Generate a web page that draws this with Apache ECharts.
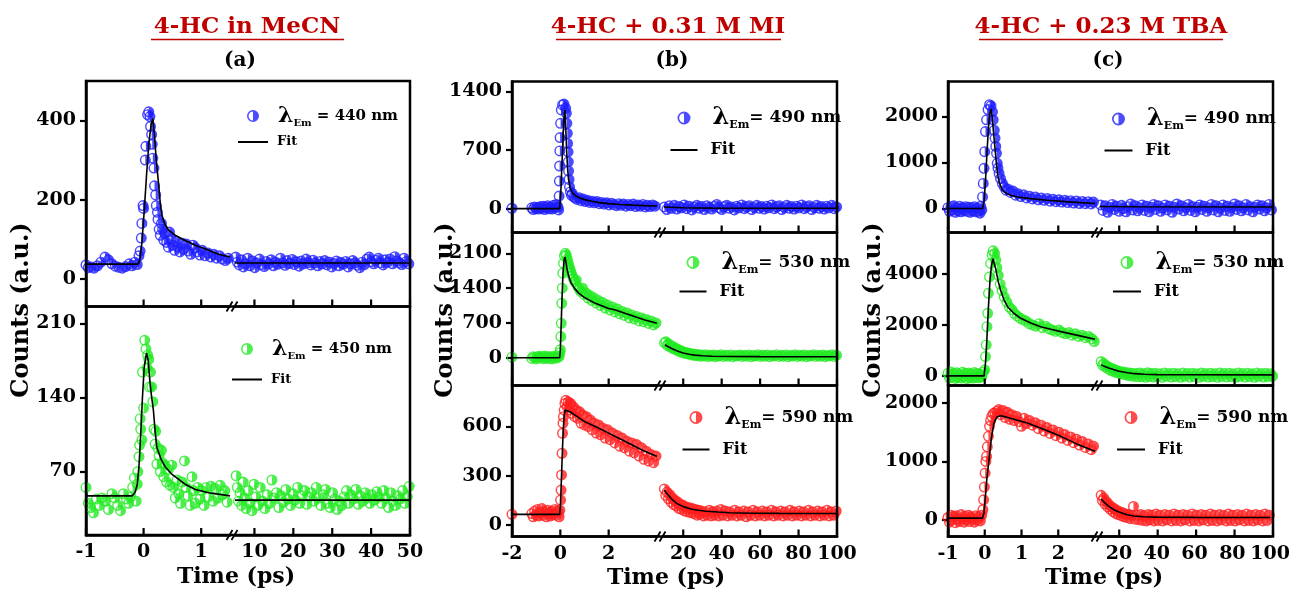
<!DOCTYPE html>
<html>
<head>
<meta charset="utf-8">
<script src="https://cdn.jsdelivr.net/npm/echarts@6/dist/echarts.min.js"></script>
<style>
  html, body { margin: 0; padding: 0; background: #ffffff; }
  #chart { width: 1293px; height: 595px; }
</style>
</head>
<body>
<div id="chart"></div>
<script>
// ---------------- tick values ----------------
const aEarlyTicks = [-1, 0, 1];
const aLateTicks = [10, 20, 30, 40, 50];
const bEarlyTicks = [-2, 0, 2];
const cEarlyTicks = [-1, 0, 1, 2];
const bcLateTicks = [20, 40, 60, 80, 100];
const a440Ticks = [0, 200, 400];
const a450Ticks = [70, 140, 210];
const b490Ticks = [0, 700, 1400];
const b530Ticks = [0, 700, 1400, 2100];
const b590Ticks = [0, 300, 600];
const c490Ticks = [0, 1000, 2000];
const c530Ticks = [0, 2000, 4000];
const c590Ticks = [0, 1000, 2000];

// ---------------- data: [time (ps), counts] ----------------
// (a) 4-HC in MeCN, 440 nm
const a440Early = [[-1.00,35],[-0.96,28],[-0.91,30],[-0.86,27],[-0.80,33],[-0.74,42],[-0.67,55],[-0.61,48],[-0.55,38],[-0.49,32],[-0.43,29],[-0.37,27],[-0.31,31],[-0.25,38],[-0.20,33],[-0.15,42],[-0.11,36],[-0.08,58],[-0.06,70],[-0.04,103],[-0.03,140],[-0.01,185],[0.00,178],[0.03,300],[0.04,335],[0.07,415],[0.09,422],[0.11,410],[0.12,385],[0.14,365],[0.15,340],[0.16,305],[0.18,280],[0.19,235],[0.21,212],[0.22,185],[0.24,168],[0.25,150],[0.27,125],[0.29,110],[0.31,140],[0.33,125],[0.35,98],[0.37,115],[0.40,92],[0.43,80],[0.45,118],[0.48,100],[0.51,85],[0.54,72],[0.57,95],[0.60,80],[0.63,68],[0.67,90],[0.70,75],[0.74,88],[0.78,70],[0.82,62],[0.86,85],[0.90,78],[0.94,68],[0.98,60],[1.02,72],[1.07,58],[1.12,65],[1.17,55],[1.22,62],[1.27,52],[1.32,58],[1.37,50],[1.42,46],[1.47,52]];
const a440Late = [[5.2,55],[5.6,42],[6.1,35],[6.7,48],[7.2,30],[7.8,38],[8.3,52],[8.9,33],[9.5,45],[10.1,28],[10.7,40],[11.3,50],[11.9,36],[12.5,31],[13.1,44],[13.7,38],[14.3,48],[14.9,33],[15.5,42],[16.1,37],[16.7,52],[17.3,40],[17.9,34],[18.5,46],[19.1,39],[19.7,49],[20.3,36],[20.9,43],[21.5,32],[22.1,45],[22.7,38],[23.3,50],[23.9,41],[24.5,35],[25.1,47],[25.7,40],[26.3,33],[26.9,44],[27.5,38],[28.1,46],[28.7,35],[29.3,42],[29.9,30],[30.5,39],[31.1,45],[31.7,33],[32.3,41],[32.9,37],[33.5,44],[34.1,30],[34.7,38],[35.3,46],[35.9,40],[36.5,34],[37.1,28],[37.7,42],[38.3,36],[38.9,50],[39.5,55],[40.1,43],[40.7,38],[41.3,47],[41.9,52],[42.5,40],[43.1,35],[43.7,48],[44.3,42],[44.9,50],[45.5,38],[46.1,56],[46.7,45],[47.3,40],[47.9,36],[48.5,52],[49.1,44],[49.7,38]];
const a440FitEarly = [[-1,37],[-0.1,37],[-0.07,45],[-0.03,90],[0.01,170],[0.05,260],[0.09,340],[0.13,390],[0.16,405],[0.19,360],[0.22,300],[0.26,240],[0.29,190],[0.32,160],[0.37,138],[0.43,124],[0.55,110],[0.72,97],[0.9,85],[1.13,72],[1.3,62],[1.5,55]];
const a440FitLate = [[5,40],[50,40]];

// (a) 4-HC in MeCN, 450 nm
const a450Early = [[-1.00,55],[-0.96,40],[-0.92,36],[-0.87,31],[-0.82,44],[-0.77,38],[-0.72,45],[-0.66,42],[-0.61,34],[-0.55,49],[-0.50,45],[-0.45,38],[-0.40,33],[-0.35,49],[-0.30,44],[-0.26,40],[-0.22,46],[-0.19,55],[-0.16,64],[-0.13,42],[-0.11,58],[-0.10,70],[-0.08,84],[-0.07,95],[-0.06,120],[-0.05,110],[-0.03,100],[-0.02,164],[0.00,130],[0.02,194],[0.04,186],[0.06,168],[0.07,180],[0.09,176],[0.10,150],[0.12,164],[0.14,150],[0.16,136],[0.18,110],[0.20,96],[0.21,108],[0.23,77],[0.25,92],[0.27,85],[0.29,70],[0.31,90],[0.33,78],[0.35,65],[0.37,76],[0.40,60],[0.43,72],[0.46,57],[0.49,76],[0.52,55],[0.55,45],[0.58,62],[0.61,49],[0.64,40],[0.67,60],[0.71,80],[0.74,55],[0.77,47],[0.81,38],[0.84,65],[0.87,52],[0.90,40],[0.94,55],[0.98,44],[1.01,52],[1.05,38],[1.09,55],[1.13,46],[1.17,56],[1.21,42],[1.25,54],[1.29,45],[1.33,57],[1.37,48],[1.41,52],[1.45,41]];
const a450Late = [[5.3,66],[5.6,55],[5.9,42],[6.3,50],[6.7,38],[7.1,60],[7.5,45],[7.9,35],[8.4,52],[8.9,40],[9.4,33],[9.9,58],[10.4,46],[10.9,38],[11.5,55],[12.1,42],[12.7,35],[13.3,48],[13.9,40],[14.5,62],[15.1,45],[15.7,50],[16.3,36],[16.9,47],[17.5,41],[18.1,53],[18.7,44],[19.3,38],[19.9,49],[20.5,43],[21.1,55],[21.7,40],[22.3,47],[22.9,52],[23.5,39],[24.1,46],[24.7,50],[25.3,42],[25.9,55],[26.5,45],[27.1,38],[27.7,48],[28.3,53],[28.9,40],[29.5,36],[30.1,50],[30.7,44],[31.3,34],[31.9,42],[32.5,38],[33.1,46],[33.7,52],[34.3,40],[34.9,48],[35.5,44],[36.1,53],[36.7,39],[37.3,47],[37.9,42],[38.5,50],[39.1,45],[39.7,40],[40.3,48],[40.9,43],[41.5,51],[42.1,46],[42.7,40],[43.3,52],[43.9,45],[44.5,36],[45.1,50],[45.7,42],[46.3,38],[46.9,47],[47.5,44],[48.1,52],[48.7,40],[49.3,46],[49.8,56]];
const a450FitEarly = [[-1,47],[-0.2,47],[-0.15,50],[-0.11,58],[-0.08,75],[-0.05,105],[-0.02,140],[0.01,168],[0.05,182],[0.08,175],[0.11,155],[0.14,140],[0.17,128],[0.2,108],[0.23,93],[0.3,82],[0.38,74],[0.5,67],[0.72,58],[0.9,53],[1.13,50],[1.5,47]];
const a450FitLate = [[5,43],[50,43]];

// (b) 4-HC + 0.31 M MI, 490 nm
const b490Early = [[-2.00,5],[-1.18,10],[-1.12,-10],[-1.06,20],[-1.00,0],[-0.94,15],[-0.88,-5],[-0.82,25],[-0.76,5],[-0.70,30],[-0.64,-10],[-0.58,15],[-0.52,35],[-0.46,0],[-0.40,20],[-0.34,-5],[-0.28,40],[-0.22,10],[-0.16,50],[-0.10,20],[-0.07,-15],[-0.05,150],[-0.04,330],[-0.03,510],[-0.02,690],[-0.01,850],[0.01,1020],[0.04,1180],[0.09,1240],[0.15,1250],[0.22,1200],[0.25,1140],[0.27,1020],[0.29,900],[0.30,780],[0.32,680],[0.33,560],[0.34,450],[0.36,350],[0.38,260],[0.42,200],[0.46,160],[0.50,180],[0.56,140],[0.62,125],[0.70,110],[0.78,130],[0.86,95],[0.95,115],[1.04,85],[1.13,100],[1.22,75],[1.32,90],[1.42,70],[1.52,85],[1.62,60],[1.72,75],[1.82,55],[1.92,70],[2.02,45],[2.12,65],[2.22,50],[2.32,35],[2.42,60],[2.52,40],[2.62,55],[2.72,30],[2.82,50],[2.92,35],[3.02,55],[3.12,25],[3.22,45],[3.32,30],[3.42,50],[3.52,20],[3.62,40],[3.72,25],[3.82,45],[3.92,30]];
const b490Late = [[10.2,20],[11.5,-10],[12.8,35],[14.1,5],[15.4,40],[16.7,-5],[18.0,25],[19.3,10],[20.6,45],[21.9,0],[23.2,30],[24.5,-15],[25.8,20],[27.1,40],[28.4,5],[29.7,25],[31.0,-10],[32.3,35],[33.6,15],[34.9,-5],[36.2,30],[37.5,50],[38.8,10],[40.1,-10],[41.4,25],[42.7,40],[44.0,5],[45.3,20],[46.6,-15],[47.9,30],[49.2,10],[50.5,45],[51.8,0],[53.1,20],[54.4,35],[55.7,-10],[57.0,15],[58.3,40],[59.6,5],[60.9,25],[62.2,-5],[63.5,30],[64.8,10],[66.1,45],[67.4,0],[68.7,20],[70.0,35],[71.3,-10],[72.6,15],[73.9,40],[75.2,5],[76.5,25],[77.8,-5],[79.1,30],[80.4,10],[81.7,45],[83.0,0],[84.3,20],[85.6,35],[86.9,-10],[88.2,15],[89.5,40],[90.8,5],[92.1,25],[93.4,-5],[94.7,30],[96.0,10],[97.3,40],[98.6,0],[99.8,20]];
const b490FitEarly = [[-2,0],[-0.03,0],[0.02,200],[0.07,550],[0.12,900],[0.16,1130],[0.19,1180],[0.22,1000],[0.26,700],[0.3,480],[0.34,350],[0.4,250],[0.5,190],[0.65,150],[0.8,128],[1.0,108],[1.3,88],[1.6,72],[2.0,60],[2.5,50],[3.0,42],[3.5,36],[4.0,32]];
const b490FitLate = [[10,20],[20,10],[35,6],[100,5]];

// (b) 4-HC + 0.31 M MI, 530 nm
const b530Early = [[-2.00,10],[-1.18,-15],[-1.12,20],[-1.06,5],[-1.00,-25],[-0.94,15],[-0.88,30],[-0.82,-5],[-0.76,20],[-0.70,-20],[-0.64,35],[-0.58,0],[-0.52,-15],[-0.46,25],[-0.40,5],[-0.34,-25],[-0.28,30],[-0.22,10],[-0.16,-10],[-0.10,40],[-0.05,20],[-0.02,100],[0.00,160],[0.02,424],[0.04,692],[0.06,1094],[0.08,1400],[0.10,1700],[0.13,1900],[0.17,2050],[0.21,2100],[0.25,2060],[0.29,1980],[0.33,1900],[0.37,1830],[0.41,1760],[0.45,1700],[0.50,1640],[0.55,1580],[0.60,1520],[0.66,1560],[0.72,1430],[0.78,1380],[0.85,1330],[0.92,1400],[0.99,1270],[1.07,1300],[1.15,1200],[1.23,1250],[1.31,1150],[1.40,1200],[1.49,1100],[1.58,1150],[1.67,1050],[1.76,1110],[1.86,1000],[1.96,1060],[2.06,960],[2.16,1020],[2.26,920],[2.36,980],[2.46,880],[2.56,930],[2.66,850],[2.76,900],[2.86,800],[2.96,860],[3.06,780],[3.16,830],[3.26,740],[3.36,800],[3.46,720],[3.56,770],[3.66,690],[3.76,740],[3.86,660],[3.96,700]];
const b530Late = [[10.3,300],[11.0,320],[11.7,250],[12.4,280],[13.1,220],[13.8,240],[14.5,190],[15.2,210],[15.9,160],[16.6,180],[17.3,140],[18.0,155],[18.7,110],[19.4,130],[20.1,95],[20.8,110],[21.5,80],[22.2,100],[22.9,70],[23.6,85],[24.3,55],[25.0,75],[25.8,45],[26.6,70],[27.4,40],[28.2,60],[29.0,30],[29.8,55],[30.8,35],[31.8,60],[32.8,25],[33.8,50],[34.8,30],[35.8,55],[36.8,20],[37.8,45],[38.8,35],[39.8,60],[41.0,25],[42.2,50],[43.4,30],[44.6,55],[45.8,20],[47.0,45],[48.2,35],[49.4,55],[50.6,25],[51.8,50],[53.0,30],[54.2,55],[55.4,20],[56.6,45],[57.8,35],[59.0,60],[60.2,25],[61.4,50],[62.6,30],[63.8,55],[65.0,20],[66.2,45],[67.4,35],[68.6,60],[69.8,25],[71.0,50],[72.2,30],[73.4,55],[74.6,20],[75.8,45],[77.0,35],[78.2,60],[79.4,25],[80.6,50],[81.8,30],[83.0,55],[84.2,20],[85.4,45],[86.6,35],[87.8,60],[89.0,25],[90.2,50],[91.4,30],[92.6,55],[93.8,20],[95.0,45],[96.2,35],[97.4,60],[98.6,25],[99.8,50]];
const b530FitEarly = [[-2,0],[-0.03,0],[0.0,150],[0.03,600],[0.07,1200],[0.11,1700],[0.15,1950],[0.19,2030],[0.23,1930],[0.28,1780],[0.35,1640],[0.45,1500],[0.6,1390],[0.76,1300],[1.0,1210],[1.45,1094],[2.0,990],[2.28,960],[2.7,890],[3.1,825],[3.5,760],[4.0,692]];
const b530FitLate = [[10.5,260],[12,225],[14,185],[16,150],[18,120],[20,95],[23,70],[26,52],[30,38],[35,30],[45,24],[60,21],[100,20]];

// (b) 4-HC + 0.31 M MI, 590 nm
const b590Early = [[-2.00,65],[-1.18,70],[-1.12,50],[-1.06,85],[-1.00,60],[-0.94,95],[-0.88,55],[-0.82,75],[-0.76,100],[-0.70,60],[-0.64,80],[-0.58,50],[-0.52,90],[-0.46,70],[-0.40,55],[-0.34,85],[-0.28,65],[-0.22,95],[-0.16,60],[-0.10,80],[-0.05,50],[-0.02,90],[0.01,152],[0.03,213],[0.05,305],[0.07,437],[0.09,559],[0.11,620],[0.13,660],[0.16,700],[0.19,740],[0.23,760],[0.28,720],[0.33,750],[0.38,700],[0.43,740],[0.48,680],[0.54,720],[0.60,660],[0.66,700],[0.72,650],[0.79,690],[0.86,620],[0.93,670],[1.00,610],[1.08,660],[1.16,600],[1.24,640],[1.32,580],[1.40,620],[1.49,560],[1.58,610],[1.67,550],[1.76,590],[1.86,530],[1.96,580],[2.06,520],[2.16,560],[2.26,500],[2.36,545],[2.46,480],[2.56,530],[2.66,470],[2.76,510],[2.86,450],[2.96,500],[3.06,440],[3.16,490],[3.26,420],[3.36,470],[3.46,400],[3.56,450],[3.66,390],[3.76,430],[3.86,380],[3.96,420]];
const b590Late = [[10.2,220],[10.9,180],[11.6,200],[12.3,160],[13.0,185],[13.7,140],[14.4,165],[15.1,125],[15.8,150],[16.5,115],[17.2,140],[17.9,100],[18.6,125],[19.3,95],[20.0,120],[20.8,85],[21.6,110],[22.4,80],[23.2,105],[24.0,75],[24.8,100],[25.6,70],[26.4,95],[27.2,60],[28.0,90],[28.8,65],[29.6,85],[30.6,55],[31.6,80],[32.6,60],[33.6,90],[34.6,55],[35.6,80],[36.6,60],[37.6,85],[38.6,55],[39.6,95],[40.8,60],[42.0,85],[43.2,55],[44.4,80],[45.6,60],[46.8,90],[48.0,55],[49.2,80],[50.4,60],[51.6,85],[52.8,50],[54.0,80],[55.2,60],[56.4,90],[57.6,55],[58.8,80],[60.0,60],[61.2,85],[62.4,55],[63.6,80],[64.8,60],[66.0,90],[67.2,55],[68.4,80],[69.6,60],[70.8,85],[72.0,55],[73.2,80],[74.4,60],[75.6,90],[76.8,55],[78.0,80],[79.2,60],[80.4,85],[81.6,55],[82.8,80],[84.0,60],[85.2,90],[86.4,55],[87.6,80],[88.8,60],[90.0,85],[91.2,55],[92.4,80],[93.6,60],[94.8,90],[96.0,55],[97.2,80],[98.4,60],[99.6,85]];
const b590FitEarly = [[-2,65],[-0.03,65],[0.0,110],[0.04,260],[0.08,430],[0.12,580],[0.16,670],[0.2,700],[0.4,690],[0.7,660],[1.0,630],[1.45,600],[2.0,560],[2.4,530],[2.83,498],[3.4,455],[4.0,417]];
const b590FitLate = [[10.1,213],[12,185],[14,158],[16.6,132],[20,112],[24,98],[27,91],[32,84],[38,79],[44,75],[55,72],[70,71],[100,70]];

// (c) 4-HC + 0.23 M TBA, 490 nm
const c490Early = [[-1.00,20],[-0.96,-60],[-0.92,40],[-0.88,-40],[-0.84,60],[-0.80,-80],[-0.76,20],[-0.72,-50],[-0.68,50],[-0.64,-70],[-0.60,10],[-0.56,-40],[-0.52,40],[-0.48,-60],[-0.44,30],[-0.40,-80],[-0.36,20],[-0.32,-50],[-0.28,40],[-0.24,-70],[-0.20,10],[-0.16,-60],[-0.13,-100],[-0.11,50],[-0.08,-30],[-0.06,253],[-0.04,546],[-0.02,873],[0.00,1236],[0.02,1672],[0.05,1928],[0.09,2150],[0.13,2255],[0.17,2230],[0.21,2100],[0.23,1928],[0.26,1700],[0.28,1528],[0.30,1350],[0.32,1200],[0.34,982],[0.36,880],[0.39,764],[0.43,650],[0.48,546],[0.53,470],[0.58,400],[0.64,420],[0.70,350],[0.77,380],[0.84,290],[0.91,320],[0.98,260],[1.06,300],[1.14,230],[1.22,270],[1.30,210],[1.38,250],[1.46,190],[1.54,230],[1.62,180],[1.70,220],[1.78,160],[1.86,200],[1.94,150],[2.02,190],[2.10,140],[2.18,180],[2.26,130],[2.34,170],[2.42,120],[2.50,165],[2.58,110],[2.66,155],[2.74,105],[2.82,150],[2.90,100],[2.96,140]];
const c490Late = [[10.4,80],[11.6,-40],[12.8,60],[14.0,-80],[15.2,30],[16.4,90],[17.6,-20],[18.8,50],[20.0,-60],[21.2,70],[22.4,0],[23.6,-70],[24.8,40],[26.0,100],[27.2,-30],[28.4,60],[29.6,-50],[30.8,20],[32.0,80],[33.2,-40],[34.4,50],[35.6,-70],[36.8,30],[38.0,90],[39.2,-20],[40.4,60],[41.6,-60],[42.8,10],[44.0,80],[45.2,-30],[46.4,50],[47.6,-80],[48.8,30],[50.0,100],[51.2,-10],[52.4,60],[53.6,-50],[54.8,20],[56.0,90],[57.2,-40],[58.4,40],[59.6,-70],[60.8,30],[62.0,80],[63.2,-20],[64.4,50],[65.6,-60],[66.8,20],[68.0,90],[69.2,-30],[70.4,60],[71.6,-70],[72.8,10],[74.0,80],[75.2,-40],[76.4,50],[77.6,-60],[78.8,30],[80.0,100],[81.2,-20],[82.4,60],[83.6,-50],[84.8,20],[86.0,90],[87.2,-30],[88.4,40],[89.6,-70],[90.8,30],[92.0,80],[93.2,-10],[94.4,60],[95.6,-50],[96.8,20],[98.0,90],[99.2,-30]];
const c490FitEarly = [[-1,0],[-0.06,0],[-0.02,150],[0.02,600],[0.06,1200],[0.1,1750],[0.14,2080],[0.17,2160],[0.2,2000],[0.24,1650],[0.28,1300],[0.32,950],[0.36,700],[0.4,560],[0.47,420],[0.55,350],[0.7,290],[0.9,250],[1.25,215],[1.7,180],[2.2,150],[2.6,128],[3.0,110]];
const c490FitLate = [[10,45],[30,38],[100,35]];

// (c) 4-HC + 0.23 M TBA, 530 nm
const c530Early = [[-1.00,100],[-0.96,-80],[-0.92,150],[-0.88,-50],[-0.84,80],[-0.80,-100],[-0.76,120],[-0.72,-60],[-0.68,60],[-0.64,-90],[-0.60,140],[-0.56,-40],[-0.52,90],[-0.48,-110],[-0.44,110],[-0.40,-70],[-0.36,70],[-0.32,-90],[-0.28,130],[-0.24,-50],[-0.20,90],[-0.16,-80],[-0.12,60],[-0.08,-40],[-0.04,150],[0.00,235],[0.02,757],[0.04,1216],[0.06,1933],[0.08,2459],[0.10,3243],[0.13,3894],[0.16,4420],[0.20,4750],[0.23,4914],[0.27,4800],[0.30,4550],[0.33,4250],[0.37,3950],[0.42,3600],[0.47,3350],[0.53,3100],[0.60,2900],[0.67,2700],[0.74,2600],[0.81,2450],[0.89,2350],[0.97,2260],[1.05,2200],[1.13,2150],[1.21,2050],[1.30,2000],[1.39,1950],[1.48,2050],[1.57,1900],[1.66,1950],[1.75,1850],[1.84,1800],[1.93,1750],[2.02,1800],[2.11,1700],[2.20,1650],[2.29,1700],[2.38,1600],[2.47,1650],[2.56,1550],[2.65,1600],[2.74,1500],[2.83,1550],[2.92,1450],[2.98,1350]];
const c530Late = [[10.6,560],[11.3,420],[12.0,480],[12.7,350],[13.4,400],[14.1,280],[14.8,340],[15.5,220],[16.2,290],[16.9,180],[17.6,250],[18.3,140],[19.0,200],[19.7,110],[20.4,170],[21.2,80],[22.0,150],[22.8,50],[23.6,130],[24.4,20],[25.2,110],[26.0,0],[26.8,100],[27.8,-20],[28.8,90],[29.8,-40],[30.8,110],[31.8,-30],[32.8,80],[33.8,-60],[34.8,120],[35.8,-20],[36.8,90],[37.8,-50],[38.8,100],[40.0,-30],[41.2,80],[42.4,-60],[43.6,110],[44.8,-20],[46.0,90],[47.2,-50],[48.4,100],[49.6,-30],[50.8,80],[52.0,-60],[53.2,110],[54.4,-20],[55.6,90],[56.8,-50],[58.0,100],[59.2,-30],[60.4,80],[61.6,-60],[62.8,110],[64.0,-20],[65.2,90],[66.4,-50],[67.6,100],[68.8,-30],[70.0,80],[71.2,-60],[72.4,110],[73.6,-20],[74.8,90],[76.0,-50],[77.2,100],[78.4,-30],[79.6,80],[80.8,-60],[82.0,110],[83.2,-20],[84.4,90],[85.6,-50],[86.8,100],[88.0,-30],[89.2,80],[90.4,-60],[91.6,110],[92.8,-20],[94.0,90],[95.2,-50],[96.4,100],[97.6,-30],[98.8,80],[99.8,-10]];
const c530FitEarly = [[-1,0],[-0.02,0],[0.02,500],[0.06,1500],[0.1,2700],[0.14,3700],[0.18,4300],[0.22,4600],[0.25,4615],[0.3,4200],[0.36,3750],[0.43,3373],[0.52,3000],[0.62,2718],[0.8,2450],[0.98,2262],[1.25,2080],[1.52,1933],[1.8,1830],[2.07,1737],[2.5,1600],[3.0,1439]];
const c530FitLate = [[10.6,431],[12.5,370],[14.5,310],[17.4,235],[20,180],[24.3,120],[28,85],[33,62],[40,48],[55,41],[100,39]];

// (c) 4-HC + 0.23 M TBA, 590 nm
const c590Early = [[-1.00,40],[-0.96,-40],[-0.92,80],[-0.88,0],[-0.84,60],[-0.80,-50],[-0.76,70],[-0.72,10],[-0.68,-30],[-0.64,90],[-0.60,20],[-0.56,-40],[-0.52,60],[-0.48,0],[-0.44,80],[-0.40,-30],[-0.36,50],[-0.32,10],[-0.28,-40],[-0.24,70],[-0.20,0],[-0.16,60],[-0.12,-20],[-0.08,80],[-0.05,172],[-0.03,343],[-0.01,560],[0.01,801],[0.03,1000],[0.05,1086],[0.07,1250],[0.10,1429],[0.13,1600],[0.16,1700],[0.19,1772],[0.23,1820],[0.28,1830],[0.33,1860],[0.38,1887],[0.44,1800],[0.50,1870],[0.56,1750],[0.62,1840],[0.68,1720],[0.74,1800],[0.80,1700],[0.87,1770],[0.94,1680],[1.00,1600],[1.07,1740],[1.14,1650],[1.22,1700],[1.30,1620],[1.38,1660],[1.46,1560],[1.54,1620],[1.62,1520],[1.70,1580],[1.78,1480],[1.86,1540],[1.94,1440],[2.02,1500],[2.10,1400],[2.18,1460],[2.26,1360],[2.34,1420],[2.42,1320],[2.50,1380],[2.58,1280],[2.66,1340],[2.74,1240],[2.82,1300],[2.90,1200],[2.96,1260]];
const c590Late = [[10.6,420],[11.3,330],[12.0,370],[12.7,270],[13.4,310],[14.1,220],[14.8,260],[15.5,180],[16.2,220],[16.9,140],[17.6,190],[18.3,110],[19.0,160],[19.7,90],[20.4,140],[21.2,70],[22.0,120],[22.8,50],[23.6,100],[24.4,40],[25.2,90],[26.0,20],[26.8,80],[27.7,228],[28.6,10],[29.6,80],[30.6,0],[31.6,90],[32.6,-10],[33.6,70],[34.6,-20],[35.6,90],[36.6,0],[37.6,80],[38.6,-20],[39.6,100],[40.8,-10],[42.0,80],[43.2,-20],[44.4,90],[45.6,0],[46.8,80],[48.0,-20],[49.2,100],[50.4,-10],[51.6,80],[52.8,-20],[54.0,90],[55.2,0],[56.4,80],[57.6,-20],[58.8,100],[60.0,-10],[61.2,80],[62.4,-20],[63.6,90],[64.8,0],[66.0,80],[67.2,-20],[68.4,100],[69.6,-10],[70.8,80],[72.0,-20],[73.2,90],[74.4,0],[75.6,80],[76.8,-20],[78.0,100],[79.2,-10],[80.4,80],[81.6,-20],[82.8,90],[84.0,0],[85.2,80],[86.4,-20],[87.6,100],[88.8,-10],[90.0,80],[91.2,-20],[92.4,90],[93.6,0],[94.8,80],[96.0,-20],[97.2,100],[98.4,-10],[99.6,80]];
const c590FitEarly = [[-1,29],[-0.06,29],[-0.02,120],[0.02,420],[0.06,720],[0.12,1050],[0.18,1400],[0.25,1659],[0.33,1760],[0.43,1784],[0.7,1740],[1.16,1659],[1.6,1550],[2.07,1429],[2.5,1300],[3.0,1172]];
const c590FitLate = [[10.6,355],[12.5,290],[14.5,235],[17.4,172],[20,135],[24.3,86],[28,65],[33,52],[40,45],[60,41],[100,40]];

// ---------------- layout & style ----------------
const FONT = '"DejaVu Serif"';
const BLUE = '#1e1eff', GREEN = '#22ea22', RED = '#ff1e1e';
const TITLE_RED = '#c00000';
// ring with a filled right half
const HALF = 'path://M0,10A10,10,0,1,1,20,10A10,10,0,1,1,0,10ZM2.6,10A7.4,7.4,0,1,0,17.4,10A7.4,7.4,0,1,0,2.6,10ZM10,0A10,10,0,0,1,10,20Z';

const COLS = {
  a: { x0: 86, xe: 230, xl: 235, x1: 410, rows: [[81, 306.5], [306.5, 535]],
       early: [-1, 1.5], late: [5, 50], et: aEarlyTicks, lt: aLateTicks,
       leg: { lw: 30, dot: 12, gapDot: 14, gapFit: 4, l: 22, s: 10, t: 15, f: 13 } },
  b: { x0: 512, xe: 657, xl: 664, x1: 837, rows: [[81.5, 232.5], [232.5, 385.5], [385.5, 536.5]],
       early: [-2, 4], late: [10, 100], et: bEarlyTicks, lt: bcLateTicks,
       leg: { lw: 27, dot: 13, gapDot: 17, gapFit: 8, l: 24, s: 11, t: 17, f: 16 } },
  c: { x0: 948, xe: 1095, xl: 1100, x1: 1273, rows: [[81.5, 232.5], [232.5, 385.5], [385.5, 536.5]],
       early: [-1, 3], late: [10, 100], et: cEarlyTicks, lt: bcLateTicks,
       leg: { lw: 28, dot: 13, gapDot: 17, gapFit: 8, l: 24, s: 11, t: 17, f: 16 } }
};

const panels = [
  { col: 'a', row: 0, name: 'a440', text: ' = 440 nm', color: BLUE, y: [-70, 500], yt: a440Ticks,
    early: a440Early, late: a440Late, fitE: a440FitEarly, fitL: a440FitLate, leg: [253, 117, 144] },
  { col: 'a', row: 1, name: 'a450', text: ' = 450 nm', color: GREEN, y: [10, 226], yt: a450Ticks,
    early: a450Early, late: a450Late, fitE: a450FitEarly, fitL: a450FitLate, leg: [247, 350, 381.5] },
  { col: 'b', row: 0, name: 'b490', text: '= 490 nm', color: BLUE, y: [-285, 1520], yt: b490Ticks,
    early: b490Early, late: b490Late, fitE: b490FitEarly, fitL: b490FitLate, leg: [684, 119, 152] },
  { col: 'b', row: 1, name: 'b530', text: '= 530 nm', color: GREEN, y: [-560, 2520], yt: b530Ticks,
    early: b530Early, late: b530Late, fitE: b530FitEarly, fitL: b530FitLate, leg: [693, 263.5, 293.5] },
  { col: 'b', row: 2, name: 'b590', text: '= 590 nm', color: RED, y: [-70, 850], yt: b590Ticks,
    early: b590Early, late: b590Late, fitE: b590FitEarly, fitL: b590FitLate, leg: [696, 418.5, 451.5] },
  { col: 'c', row: 0, name: 'c490', text: '= 490 nm', color: BLUE, y: [-520, 2760], yt: c490Ticks,
    early: c490Early, late: c490Late, fitE: c490FitEarly, fitL: c490FitLate, leg: [1118.5, 120, 152.5] },
  { col: 'c', row: 1, name: 'c530', text: '= 530 nm', color: GREEN, y: [-380, 5635], yt: c530Ticks,
    early: c530Early, late: c530Late, fitE: c530FitEarly, fitL: c530FitLate, leg: [1127, 263.5, 293.5] },
  { col: 'c', row: 2, name: 'c590', text: '= 590 nm', color: RED, y: [-286, 2300], yt: c590Ticks,
    early: c590Early, late: c590Late, fitE: c590FitEarly, fitL: c590FitLate, leg: [1131, 418.5, 451.5] }
];

const labelFont = { fontFamily: FONT, fontWeight: 'bold', fontSize: 19, color: '#000', formatter: v => String(v) };
const tickLine = { color: '#000', width: 2.2 };
const axisLine = { show: true, onZero: false, lineStyle: { color: '#000', width: 2.5 } };

const option = {
  animation: false,
  backgroundColor: '#ffffff',
  textStyle: { fontFamily: FONT },
  grid: [], xAxis: [], yAxis: [], series: [], legend: [], graphic: []
};
const G = option.graphic;

panels.forEach(p => {
  const c = COLS[p.col];
  const [y0, y1] = c.rows[p.row];
  const isBottom = p.row === c.rows.length - 1;
  const segs = [
    { xa: c.x0, xb: c.xe, range: c.early, ticks: c.et, pts: p.early, fit: p.fitE, main: true },
    { xa: c.xl, xb: c.x1, range: c.late, ticks: c.lt, pts: p.late, fit: p.fitL, main: false }
  ];
  segs.forEach(s => {
    const gi = option.grid.length;
    option.grid.push({ left: s.xa, top: y0, width: s.xb - s.xa, height: y1 - y0 });
    option.xAxis.push({
      type: 'value', gridIndex: gi, min: s.range[0], max: s.range[1], position: 'bottom',
      axisLine: axisLine, splitLine: { show: false },
      axisTick: { show: false },
      axisLabel: Object.assign({ show: isBottom, customValues: s.ticks, margin: 8,
        showMinLabel: true, showMaxLabel: true, hideOverlap: false }, labelFont)
    });
    // inward ticks on the lower edge of this segment, at the same values as its labels
    s.ticks.forEach(v => {
      const px = s.xa + (v - s.range[0]) / (s.range[1] - s.range[0]) * (s.xb - s.xa);
      G.push({ type: 'line', z: 52, shape: { x1: px, y1: y1, x2: px, y2: y1 - 7 },
               style: { stroke: '#000', lineWidth: 2.2 } });
    });
    option.yAxis.push({
      type: 'value', gridIndex: gi, min: p.y[0], max: p.y[1], show: s.main, position: 'left',
      axisLine: axisLine, splitLine: { show: false },
      axisTick: { show: true, inside: false, length: 6, lineStyle: tickLine, customValues: p.yt },
      axisLabel: Object.assign({ customValues: p.yt, margin: 10,
        showMinLabel: true, showMaxLabel: true, hideOverlap: false }, labelFont)
    });
    option.series.push({
      type: 'scatter', name: p.name, xAxisIndex: gi, yAxisIndex: gi, data: s.pts,
      symbol: HALF, symbolSize: 11, itemStyle: { color: p.color }, z: 2
    });
    option.series.push({
      type: 'line', name: p.name + 'Fit', xAxisIndex: gi, yAxisIndex: gi, data: s.fit,
      symbol: 'none', showSymbol: false, lineStyle: { color: '#000', width: 1.6 },
      itemStyle: { color: '#000' }, z: 3
    });
  });

  // legend: two single-entry legends per panel
  const L = c.leg;
  const [cx, yDot, yFit] = p.leg;
  const lh = L.l + 2, fh = L.f + 4;
  const rich = {
    l: { fontFamily: FONT, fontWeight: 'bold', fontSize: L.l, lineHeight: lh, color: '#000', padding: [0, 0, 0, L.gapDot] },
    s: { fontFamily: FONT, fontWeight: 'bold', fontSize: L.s, lineHeight: L.s + 1, verticalAlign: 'bottom', color: '#000' },
    t: { fontFamily: FONT, fontWeight: 'bold', fontSize: L.t, color: '#000' },
    f: { fontFamily: FONT, fontWeight: 'bold', fontSize: L.f, lineHeight: fh, color: '#000', padding: [0, 0, 0, L.gapFit] }
  };
  option.legend.push({
    data: [{ name: p.name, icon: HALF }], selectedMode: false, padding: 0,
    left: cx - L.dot / 2, top: yDot - lh / 2, itemWidth: L.dot, itemHeight: L.dot,
    formatter: () => '{l|λ}{s|Em}{t|' + p.text + '}', textStyle: { rich }
  });
  option.legend.push({
    data: [{ name: p.name + 'Fit', icon: 'rect' }], selectedMode: false, padding: 0,
    left: cx - L.lw / 2, top: yFit - fh / 2, itemWidth: L.lw, itemHeight: 2,
    itemStyle: { color: '#000' },
    formatter: () => '{f|Fit}', textStyle: { rich }
  });
});

// ---------------- frames, break marks, titles ----------------
const frameStyle = { fill: 'none', stroke: '#000', lineWidth: 2.5 };
Object.keys(COLS).forEach(k => {
  const c = COLS[k];
  const top = c.rows[0][0], bot = c.rows[c.rows.length - 1][1];
  G.push({ type: 'rect', z: 50, shape: { x: c.x0, y: top, width: c.x1 - c.x0, height: bot - top }, style: frameStyle });
  c.rows.forEach((r, i) => {
    if (i > 0) G.push({ type: 'line', z: 50, shape: { x1: c.x0, y1: r[0], x2: c.x1, y2: r[0] }, style: { stroke: '#000', lineWidth: 2.5 } });
    const bx = (c.xe + c.xl) / 2, by = r[1];
    [-3, 2].forEach(dx => {
      G.push({ type: 'line', z: 51, shape: { x1: bx + dx - 3, y1: by + 5, x2: bx + dx + 3, y2: by - 5 },
               style: { stroke: '#000', lineWidth: 1.8 } });
    });
  });
});

const textEl = (x, y, text, size, color, extra) => Object.assign({
  type: 'text', x, y, z: 60,
  style: { text, font: 'bold ' + size + 'px ' + FONT, fill: color, align: 'center', verticalAlign: 'middle' }
}, extra || {});

const headers = [
  { x: 247, text: '4-HC in MeCN', tag: '(a)', tx: 240, u: [151, 344] },
  { x: 668, text: '4-HC + 0.31 M MI', tag: '(b)', tx: 672, u: [556, 781] },
  { x: 1101, text: '4-HC + 0.23 M TBA', tag: '(c)', tx: 1108, u: [979, 1223] }
];
headers.forEach(h => {
  G.push(textEl(h.x, 27, h.text, 23, TITLE_RED));
  G.push({ type: 'line', z: 60, shape: { x1: h.u[0], y1: 39.5, x2: h.u[1], y2: 39.5 }, style: { stroke: TITLE_RED, lineWidth: 1.6 } });
  G.push(textEl(h.tx, 61, h.tag, 20, '#000'));
});

[[22, 310], [446, 310], [874, 310]].forEach(([x, y]) => {
  G.push(textEl(x, y, 'Counts (a.u.)', 24, '#000', { rotation: Math.PI / 2 }));
});
[[236, 577], [666, 578], [1104, 578]].forEach(([x, y]) => {
  G.push(textEl(x, y, 'Time (ps)', 22, '#000'));
});

const chart = echarts.init(document.getElementById('chart'), null, { renderer: 'canvas' });
chart.setOption(option);
</script>
</body>
</html>
